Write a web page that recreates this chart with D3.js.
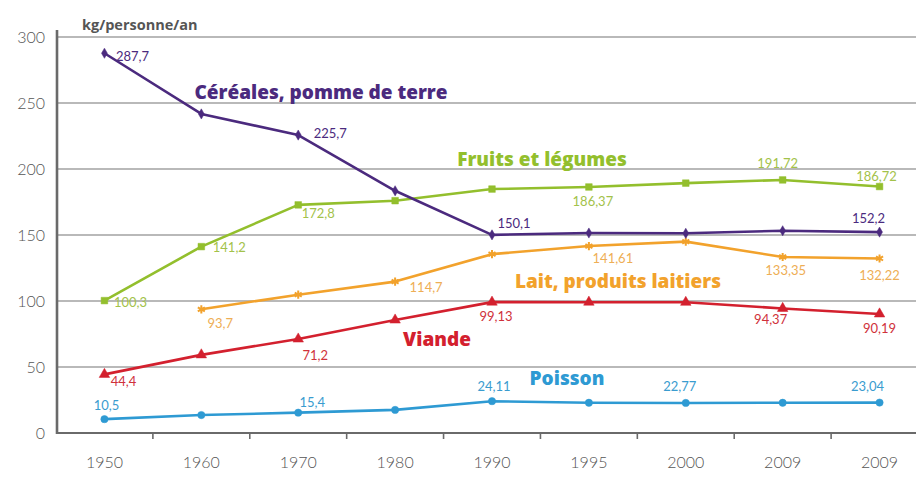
<!DOCTYPE html>
<html>
<head>
<meta charset="utf-8">
<script src="https://cdn.jsdelivr.net/npm/d3@7"></script>
<style>
  body { margin: 0; background: #fff; }
  svg { display: block; }
</style>
</head>
<body>
<svg id="chart" width="916" height="477"></svg>
<script>
// categories (two 2009 columns, as in the source)
var years = ["1950", "1960", "1970", "1980", "1990", "1995", "2000", "2009", "2009"];
var yTicks = [0, 50, 100, 150, 200, 250, 300];

// kg per person per year
var cereales = [287.7, 241.7, 225.7, 183.5, 150.1, 151.5, 151.3, 153.2, 152.2];
var fruits   = [100.3, 141.2, 172.8, 176.0, 184.8, 186.37, 189.3, 191.72, 186.72];
var lait     = [null, 93.7, 104.8, 114.7, 135.5, 141.61, 145.0, 133.35, 132.22];
var viande   = [44.4, 59.2, 71.2, 85.6, 99.13, 99.1, 99.0, 94.37, 90.19];
var poisson  = [10.5, 13.6, 15.4, 17.5, 24.11, 22.9, 22.77, 22.9, 23.04];

// which points carry a value label
var cerealesLabelled = [0, 2, 4, 8];
var fruitsLabelled   = [0, 1, 2, 5, 7, 8];
var laitLabelled     = [1, 3, 5, 7, 8];
var viandeLabelled   = [0, 2, 4, 7, 8];
var poissonLabelled  = [0, 2, 4, 6, 8];

var svg = d3.select("#chart");
var width = 916;

var x = d3.scaleBand().domain(d3.range(years.length)).range([56, 928]);
var y = d3.scaleLinear().domain([0, 300]).range([433, 37]);
var cx = function (i) { return x(i) + x.bandwidth() / 2; };

// gridlines
svg.append("g").selectAll("line")
    .data(yTicks.filter(function (d) { return d > 0; }))
    .enter().append("line")
    .attr("x1", 57).attr("x2", width)
    .attr("y1", function (d) { return y(d); })
    .attr("y2", function (d) { return y(d); })
    .attr("stroke", "#a2a2a2")
    .attr("stroke-width", 1.6);

// y axis
var yAxis = svg.append("g")
    .attr("transform", "translate(57,0)")
    .call(d3.axisLeft(y).tickValues(yTicks).tickSize(0).tickPadding(12));
yAxis.select(".domain").remove();
yAxis.selectAll("text")
    .attr("font-family", "Lato, 'Open Sans', sans-serif")
    .attr("font-size", 16)
    .attr("font-weight", 300)
    .attr("fill", "#555");
svg.append("line")
    .attr("x1", 57).attr("x2", 57).attr("y1", 30).attr("y2", 434)
    .attr("stroke", "#6a6a6a").attr("stroke-width", 2.6);

// x axis
svg.append("line")
    .attr("x1", 56).attr("x2", width).attr("y1", 433).attr("y2", 433)
    .attr("stroke", "#6a6a6a").attr("stroke-width", 2.2);
svg.append("g").selectAll("line")
    .data(d3.range(1, years.length))
    .enter().append("line")
    .attr("x1", function (i) { return x(i); })
    .attr("x2", function (i) { return x(i); })
    .attr("y1", 433).attr("y2", 439)
    .attr("stroke", "#6a6a6a").attr("stroke-width", 1.6);
var xAxis = svg.append("g")
    .attr("transform", "translate(0,433)")
    .call(d3.axisBottom(x).tickSize(0).tickPadding(24)
        .tickFormat(function (i) { return years[i]; }));
xAxis.select(".domain").remove();
xAxis.selectAll("text")
    .attr("font-family", "Lato, 'Open Sans', sans-serif")
    .attr("font-size", 16)
    .attr("font-weight", 300)
    .attr("fill", "#555");

// unit
svg.append("text")
    .attr("x", 82).attr("y", 30)
    .attr("font-family", "'Open Sans', sans-serif")
    .attr("font-size", 14.5)
    .attr("font-weight", 700)
    .attr("fill", "#555")
    .text("kg/personne/an");

var series = [
  { name: "Poisson", values: poisson, labelled: poissonLabelled, color: "#2e9ad3", text: "#3a9ccf",
    symbol: d3.symbolCircle, size: 42, stroke: false,
    offsets: [[2, -9], [0, 0], [14, -6], [0, 0], [2, -10], [0, 0], [-6, -12], [0, 0], [-12, -12]],
    title: { x: 567, y: 385 } },
  { name: "Viande", values: viande, labelled: viandeLabelled, color: "#d3202e", text: "#d0313a",
    symbol: d3.symbolTriangle, size: 48, stroke: false,
    offsets: [[19, 12], [0, 0], [17, 21], [0, 0], [4, 19], [0, 0], [0, 0], [-12, 16], [0, 19]],
    title: { x: 437, y: 346 } },
  { name: "Lait, produits laitiers", values: lait, labelled: laitLabelled, color: "#f2a22c", text: "#eeae55",
    symbol: d3.symbolAsterisk, size: 46, stroke: true,
    offsets: [[0, 0], [19, 19], [0, 0], [31, 10], [0, 0], [24, 17], [0, 0], [3, 18], [0, 22]],
    title: { x: 618, y: 288 } },
  { name: "Fruits et légumes", values: fruits, labelled: fruitsLabelled, color: "#93bf2d", text: "#a3c24a",
    symbol: d3.symbolSquare, size: 44, stroke: false,
    offsets: [[26, 6], [28, 5], [20, 13], [0, 0], [0, 0], [4, 19], [0, 0], [-5, -12], [-3, -6]],
    title: { x: 542, y: 166 } },
  { name: "Céréales, pomme de terre", values: cereales, labelled: cerealesLabelled, color: "#4b2a7e", text: "#4b2a7e",
    symbol: d3.symbolDiamond, size: 30, stroke: false,
    offsets: [[28, 8], [0, 0], [32, 3], [0, 0], [22, -7], [0, 0], [0, 0], [0, 0], [-11, -9]],
    title: { x: 321, y: 99 } }
];

var line = d3.line()
    .defined(function (d) { return d != null; })
    .x(function (d, i) { return cx(i); })
    .y(function (d) { return y(d); });

series.forEach(function (s) {
  var g = svg.append("g");

  g.append("path")
      .attr("d", line(s.values))
      .attr("fill", "none")
      .attr("stroke", s.color)
      .attr("stroke-width", 2.6)
      .attr("stroke-linejoin", "round");

  var pts = s.values.map(function (v, i) { return { v: v, i: i }; })
      .filter(function (d) { return d.v != null; });

  g.selectAll("path.mark")
      .data(pts)
      .enter().append("path")
      .attr("class", "mark")
      .attr("transform", function (d) { return "translate(" + cx(d.i) + "," + y(d.v) + ")"; })
      .attr("d", d3.symbol().type(s.symbol).size(s.size))
      .attr("fill", s.stroke ? "none" : s.color)
      .attr("stroke", s.color)
      .attr("stroke-width", s.stroke ? 2 : 0.5);

  g.selectAll("text.val")
      .data(s.labelled)
      .enter().append("text")
      .attr("class", "val")
      .attr("x", function (i) { return cx(i) + s.offsets[i][0]; })
      .attr("y", function (i) { return y(s.values[i]) + s.offsets[i][1]; })
      .attr("text-anchor", "middle")
      .attr("font-family", "Lato, 'Open Sans', sans-serif")
      .attr("font-size", 13)
      .attr("fill", s.text)
      .text(function (i) { return String(s.values[i]).replace(".", ","); });

  g.append("text")
      .attr("x", s.title.x).attr("y", s.title.y)
      .attr("text-anchor", "middle")
      .attr("font-family", "'Open Sans', sans-serif")
      .attr("font-size", 19)
      .attr("font-weight", 800)
      .attr("fill", s.color)
      .text(s.name);
});
</script>
</body>
</html>
